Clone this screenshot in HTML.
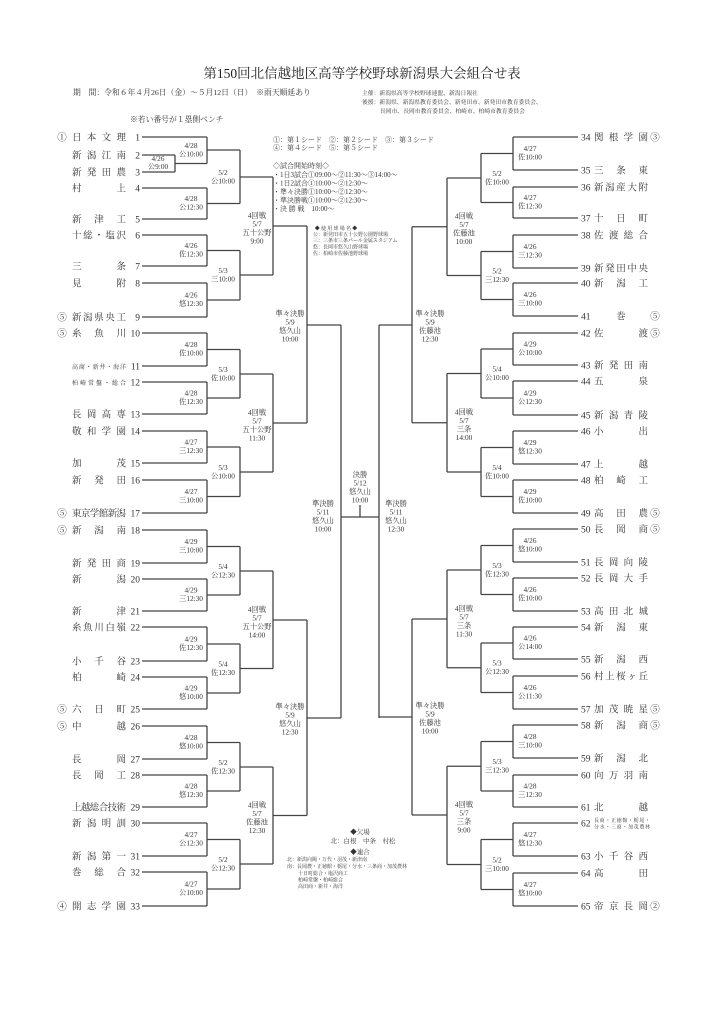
<!DOCTYPE html>
<html><head><meta charset="utf-8"><style>
html,body{margin:0;padding:0;background:#fff;}
svg{display:block;font-family:"Liberation Serif","Noto Serif CJK SC",serif;}
.n{font-size:9.5px;fill:#333;}
.s{font-size:6px;fill:#333;}
.l{font-size:7.3px;fill:#333;text-anchor:middle;}
.e{text-anchor:end;}
.m{text-anchor:middle;}
.t{font-size:7px;fill:#333;}
.v{font-size:5px;fill:#333;}
</style></head><body>
<svg width="725" height="1024" viewBox="0 0 725 1024" xmlns="http://www.w3.org/2000/svg">
<rect width="725" height="1024" fill="#fff"/>
<text x="362" y="78" font-size="13.5" text-anchor="middle" fill="#222">第150回北信越地区高等学校野球新潟県大会組合せ表</text>
<text x="73" y="95" font-size="7.8" fill="#333">期　間：令和６年４月26日（金）～５月12日（日）　※雨天順延あり</text>
<text x="362" y="95" font-size="5.8" fill="#333">主催：新潟県高等学校野球連盟、新潟日報社</text>
<text x="362" y="104" font-size="5.8" fill="#333">後援：新潟県、新潟県教育委員会、新発田市、新発田市教育委員会、</text>
<text x="380" y="113" font-size="5.8" fill="#333">長岡市、長岡市教育委員会、柏崎市、柏崎市教育委員会</text>
<text x="130" y="122" font-size="7.8" fill="#333">※若い番号が１塁側ベンチ</text>
<text x="273" y="142" class="t" font-size="6.5">①：第１シード　②：第２シード　③：第３シード</text>
<text x="273" y="150" class="t" font-size="6.5">④：第４シード　⑤：第５シード</text>
<text x="273" y="168" class="t">◇試合開始時刻◇</text>
<text x="273" y="177" class="t">・1日3試合①09:00～②11:30～③14:00～</text>
<text x="273" y="185.5" class="t">・1日2試合①10:00～②12:30～</text>
<text x="273" y="194" class="t">・準々決勝①10:00～②12:30～</text>
<text x="273" y="202.5" class="t">・準決勝戦①10:00～②12:30～</text>
<text x="273" y="211" class="t">・決 勝 戦　10:00～</text>
<text x="336" y="230" class="v m">◆ 使 用 球 場 名 ◆</text>
<text x="313" y="236" class="v" font-size="4.6">公：新発田市五十公野公園野球場</text>
<text x="313" y="242" class="v" font-size="4.6">三：三条市三条パール金属スタジアム</text>
<text x="313" y="248.5" class="v" font-size="4.6">悠：長岡市悠久山野球場</text>
<text x="313" y="255" class="v" font-size="4.6">佐：柏崎市佐藤池野球場</text>

<path fill="none" stroke="#444" stroke-width="1.3" d="
M142 137H207 M142 155H175 M142 172H175 M142 188H207 M142 219H207 M142 235H207 M142 266H207 M142 283H207 M142 317H207
M142 333H207 M142 366H207 M142 382H207 M142 414H207 M142 431H207 M142 463H207 M142 480H207 M142 513H207
M142 530H207 M142 563H207 M142 579H207 M142 611H207 M142 627H207 M142 661H207 M142 677H207 M142 709H207
M142 726H207 M142 759H207 M142 775H207 M142 807H207 M142 823H207 M142 856H207 M142 872H207 M142 906H207
M175 155V172 M175 163.5H207
M207 137V163.5 M207 150H240
M207 188V219 M207 203.5H240
M207 235V266 M207 250.5H240
M207 283V317 M207 300H240
M207 333V366 M207 349.5H240
M207 382V414 M207 398H240
M207 431V463 M207 447H240
M207 480V513 M207 496.5H240
M207 530V563 M207 546.5H240
M207 579V611 M207 595H240
M207 627V661 M207 644H240
M207 677V709 M207 693H240
M207 726V759 M207 742.5H240
M207 775V807 M207 791H240
M207 823V856 M207 839.5H240
M207 872V906 M207 889H240
M240 150V203.5 M240 177H273
M240 250.5V300 M240 275H273
M240 349.5V398 M240 374H273
M240 447V496.5 M240 472H273
M240 546.5V595 M240 571H273
M240 644V693 M240 668.5H273
M240 742.5V791 M240 767H273
M240 839.5V889 M240 864H273
M273 177V275 M273 226H307
M273 374V472 M273 423H307
M273 571V668.5 M273 620H307
M273 767V864 M273 815.5H307
M307 226V423 M307 325H341
M307 620V815.5 M307 718H341
M341 325V718 M341 517H379 M360 505V517
M379 325V718
M412 226.75V422.75 M412 325H379
M412 619V815 M412 717H379
M447 178V275.5 M447 226.75H412
M447 373.5V472 M447 422.75H412
M447 570V667.75 M447 619H412
M447 766.25V864.5 M447 815H412
M481 153.5V202.5 M481 178H447
M481 251.5V299.5 M481 275.5H447
M481 349V398 M481 373.5H447
M481 447.5V496.5 M481 472H447
M481 545.5V594.5 M481 570H447
M481 643V692.5 M481 667.75H447
M481 741.5V791 M481 766.25H447
M481 839.5V889.5 M481 864.5H447
M513 137V170 M513 153.5H481
M513 187V218 M513 202.5H481
M513 235V268 M513 251.5H481
M513 283V316 M513 299.5H481
M513 333V365 M513 349H481
M513 381V415 M513 398H481
M513 431V464 M513 447.5H481
M513 480V513 M513 496.5H481
M513 529V562 M513 545.5H481
M513 578V611 M513 594.5H481
M513 627V659 M513 643H481
M513 676V709 M513 692.5H481
M513 725V758 M513 741.5H481
M513 775V807 M513 791H481
M513 823V856 M513 839.5H481
M513 873V906 M513 889.5H481
M513 137H578 M513 170H578 M513 187H578 M513 218H578 M513 235H578 M513 268H578 M513 283H578 M513 316H578
M513 333H578 M513 365H578 M513 381H578 M513 415H578 M513 431H578 M513 464H578 M513 480H578 M513 513H578
M513 529H578 M513 562H578 M513 578H578 M513 611H578 M513 627H578 M513 659H578 M513 676H578 M513 709H578
M513 725H578 M513 758H578 M513 775H578 M513 807H578 M513 823H578 M513 856H578 M513 873H578 M513 906H578
"/>

<!-- Left teams -->
<g class="n">
<text x="62" y="140.5" class="m">①</text><text x="72" y="140.5" textLength="54">日本文理</text><text x="140" y="140.5" class="e">1</text>
<text x="72" y="158.5" textLength="54">新潟江南</text><text x="140" y="158.5" class="e">2</text>
<text x="72" y="175.5" textLength="54">新発田農</text><text x="140" y="175.5" class="e">3</text>
<text x="72" y="191.5" textLength="54">村上</text><text x="140" y="191.5" class="e">4</text>
<text x="72" y="222.5" textLength="54">新津工</text><text x="140" y="222.5" class="e">5</text>
<text x="72" y="238.5" textLength="54">十総・塩沢</text><text x="140" y="238.5" class="e">6</text>
<text x="72" y="269.5" textLength="54">三条</text><text x="140" y="269.5" class="e">7</text>
<text x="72" y="286.5" textLength="54">見附</text><text x="140" y="286.5" class="e">8</text>
<text x="62" y="320.5" class="m">⑤</text><text x="72" y="320.5" textLength="54">新潟県央工</text><text x="140" y="320.5" class="e">9</text>
<text x="62" y="336.5" class="m">⑤</text><text x="72" y="336.5" textLength="54">糸魚川</text><text x="140" y="336.5" class="e">10</text>
<text x="72" y="369" class="s" textLength="54">高商・新井・海洋</text><text x="140" y="369.5" class="e">11</text>
<text x="72" y="385" class="s" textLength="54">柏崎常盤・総合</text><text x="140" y="385.5" class="e">12</text>
<text x="72" y="417.5" textLength="54">長岡高専</text><text x="140" y="417.5" class="e">13</text>
<text x="72" y="434.5" textLength="54">敬和学園</text><text x="140" y="434.5" class="e">14</text>
<text x="72" y="466.5" textLength="54">加茂</text><text x="140" y="466.5" class="e">15</text>
<text x="72" y="483.5" textLength="54">新発田</text><text x="140" y="483.5" class="e">16</text>
<text x="62" y="516.5" class="m">⑤</text><text x="72" y="516.5" textLength="54">東京学館新潟</text><text x="140" y="516.5" class="e">17</text>
<text x="62" y="533.5" class="m">⑤</text><text x="72" y="533.5" textLength="54">新潟南</text><text x="140" y="533.5" class="e">18</text>
<text x="72" y="566.5" textLength="54">新発田商</text><text x="140" y="566.5" class="e">19</text>
<text x="72" y="582.5" textLength="54">新潟</text><text x="140" y="582.5" class="e">20</text>
<text x="72" y="614.5" textLength="54">新津</text><text x="140" y="614.5" class="e">21</text>
<text x="72" y="630.5" textLength="54">糸魚川白嶺</text><text x="140" y="630.5" class="e">22</text>
<text x="72" y="664.5" textLength="54">小千谷</text><text x="140" y="664.5" class="e">23</text>
<text x="72" y="680.5" textLength="54">柏崎</text><text x="140" y="680.5" class="e">24</text>
<text x="62" y="712.5" class="m">⑤</text><text x="72" y="712.5" textLength="54">六日町</text><text x="140" y="712.5" class="e">25</text>
<text x="62" y="729.5" class="m">⑤</text><text x="72" y="729.5" textLength="54">中越</text><text x="140" y="729.5" class="e">26</text>
<text x="72" y="762.5" textLength="54">長岡</text><text x="140" y="762.5" class="e">27</text>
<text x="72" y="778.5" textLength="54">長岡工</text><text x="140" y="778.5" class="e">28</text>
<text x="72" y="810.5" textLength="54">上越総合技術</text><text x="140" y="810.5" class="e">29</text>
<text x="72" y="826.5" textLength="54">新潟明訓</text><text x="140" y="826.5" class="e">30</text>
<text x="72" y="859.5" textLength="54">新潟第一</text><text x="140" y="859.5" class="e">31</text>
<text x="72" y="875.5" textLength="54">巻総合</text><text x="140" y="875.5" class="e">32</text>
<text x="62" y="909.5" class="m">④</text><text x="72" y="909.5" textLength="54">開志学園</text><text x="140" y="909.5" class="e">33</text>
</g>

<!-- Right teams -->
<g class="n">
<text x="581" y="140.5">34</text><text x="594" y="140.5" textLength="54">関根学園</text><text x="655" y="140.5" class="m">③</text>
<text x="581" y="173.5">35</text><text x="594" y="173.5" textLength="54">三条東</text>
<text x="581" y="190.5">36</text><text x="594" y="190.5" textLength="54">新潟産大附</text>
<text x="581" y="221.5">37</text><text x="594" y="221.5" textLength="54">十日町</text>
<text x="581" y="238.5">38</text><text x="594" y="238.5" textLength="54">佐渡総合</text>
<text x="581" y="271.5">39</text><text x="594" y="271.5" textLength="54">新発田中央</text>
<text x="581" y="286.5">40</text><text x="594" y="286.5" textLength="54">新潟工</text>
<text x="581" y="319.5">41</text><text x="621" y="319.5" class="m">巻</text><text x="655" y="319.5" class="m">⑤</text>
<text x="581" y="336.5">42</text><text x="594" y="336.5" textLength="54">佐渡</text><text x="655" y="336.5" class="m">⑤</text>
<text x="581" y="368.5">43</text><text x="594" y="368.5" textLength="54">新発田南</text>
<text x="581" y="384.5">44</text><text x="594" y="384.5" textLength="54">五泉</text>
<text x="581" y="418.5">45</text><text x="594" y="418.5" textLength="54">新潟青陵</text>
<text x="581" y="434.5">46</text><text x="594" y="434.5" textLength="54">小出</text>
<text x="581" y="467.5">47</text><text x="594" y="467.5" textLength="54">上越</text>
<text x="581" y="483.5">48</text><text x="594" y="483.5" textLength="54">柏崎工</text>
<text x="581" y="516.5">49</text><text x="594" y="516.5" textLength="54">高田農</text><text x="655" y="516.5" class="m">⑤</text>
<text x="581" y="532.5">50</text><text x="594" y="532.5" textLength="54">長岡商</text><text x="655" y="532.5" class="m">⑤</text>
<text x="581" y="565.5">51</text><text x="594" y="565.5" textLength="54">長岡向陵</text>
<text x="581" y="581.5">52</text><text x="594" y="581.5" textLength="54">長岡大手</text>
<text x="581" y="614.5">53</text><text x="594" y="614.5" textLength="54">高田北城</text>
<text x="581" y="630.5">54</text><text x="594" y="630.5" textLength="54">新潟東</text>
<text x="581" y="662.5">55</text><text x="594" y="662.5" textLength="54">新潟西</text>
<text x="581" y="679.5">56</text><text x="594" y="679.5" textLength="54">村上桜ヶ丘</text>
<text x="581" y="712.5">57</text><text x="594" y="712.5" textLength="54">加茂暁星</text><text x="655" y="712.5" class="m">⑤</text>
<text x="581" y="728.5">58</text><text x="594" y="728.5" textLength="54">新潟商</text><text x="655" y="728.5" class="m">⑤</text>
<text x="581" y="761.5">59</text><text x="594" y="761.5" textLength="54">新潟北</text>
<text x="581" y="778.5">60</text><text x="594" y="778.5" textLength="54">向万羽南</text>
<text x="581" y="810.5">61</text><text x="594" y="810.5" textLength="54">北越</text>
<text x="581" y="826.5">62</text><text x="594" y="822" class="v" textLength="56">長商・正徳館・栃尾・</text><text x="594" y="828.5" class="v" textLength="56">分水・三商・加茂農林</text>
<text x="581" y="859.5">63</text><text x="594" y="859.5" textLength="54">小千谷西</text>
<text x="581" y="876.5">64</text><text x="594" y="876.5" textLength="54">高田</text>
<text x="581" y="909.5">65</text><text x="594" y="909.5" textLength="54">帝京長岡</text><text x="655" y="909.5" class="m">②</text>
</g>

<!-- Left labels -->
<g class="l">
<text x="158" y="161">4/26</text><text x="158" y="169">公9:00</text>
<text x="191" y="148">4/28</text><text x="191" y="156.5">公10:00</text>
<text x="191" y="201">4/28</text><text x="191" y="209.5">公12:30</text>
<text x="191" y="248">4/26</text><text x="191" y="256.5">佐12:30</text>
<text x="191" y="297.5">4/26</text><text x="191" y="306">悠12:30</text>
<text x="191" y="347">4/28</text><text x="191" y="355.5">佐10:00</text>
<text x="191" y="395.5">4/28</text><text x="191" y="404">佐12:30</text>
<text x="191" y="444.5">4/27</text><text x="191" y="453">三12:30</text>
<text x="191" y="494">4/27</text><text x="191" y="502.5">三10:00</text>
<text x="191" y="544">4/29</text><text x="191" y="552.5">三10:00</text>
<text x="191" y="592.5">4/29</text><text x="191" y="601">三12:30</text>
<text x="191" y="641.5">4/29</text><text x="191" y="650">佐12:30</text>
<text x="191" y="690.5">4/29</text><text x="191" y="699">悠10:00</text>
<text x="191" y="740">4/28</text><text x="191" y="748.5">悠10:00</text>
<text x="191" y="788.5">4/28</text><text x="191" y="797">悠12:30</text>
<text x="191" y="837">4/27</text><text x="191" y="845.5">公12:30</text>
<text x="191" y="886.5">4/27</text><text x="191" y="895">公10:00</text>
<text x="223" y="175">5/2</text><text x="223" y="183.5">公10:00</text>
<text x="223" y="273">5/3</text><text x="223" y="281.5">三10:00</text>
<text x="223" y="372">5/3</text><text x="223" y="380.5">佐10:00</text>
<text x="223" y="470">5/3</text><text x="223" y="478.5">公10:00</text>
<text x="223" y="569">5/4</text><text x="223" y="577.5">公12:30</text>
<text x="223" y="666.5">5/4</text><text x="223" y="675">佐12:30</text>
<text x="223" y="765">5/2</text><text x="223" y="773.5">佐12:30</text>
<text x="223" y="862">5/2</text><text x="223" y="870.5">公12:30</text>
<text x="257" y="218">4回戦</text><text x="257" y="226.5">5/7</text><text x="257" y="235">五十公野</text><text x="257" y="243.5">9:00</text>
<text x="257" y="415">4回戦</text><text x="257" y="423.5">5/7</text><text x="257" y="432">五十公野</text><text x="257" y="440.5">11:30</text>
<text x="257" y="612">4回戦</text><text x="257" y="620.5">5/7</text><text x="257" y="629">五十公野</text><text x="257" y="637.5">14:00</text>
<text x="257" y="807.5">4回戦</text><text x="257" y="816">5/7</text><text x="257" y="824.5">佐藤池</text><text x="257" y="833">12:30</text>
<text x="290" y="316">準々決勝</text><text x="290" y="324.5">5/9</text><text x="290" y="333">悠久山</text><text x="290" y="341.5">10:00</text>
<text x="290" y="709">準々決勝</text><text x="290" y="717.5">5/9</text><text x="290" y="726">悠久山</text><text x="290" y="734.5">12:30</text>
<text x="323" y="506">準決勝</text><text x="323" y="514.5">5/11</text><text x="323" y="523">悠久山</text><text x="323" y="531.5">10:00</text>
<text x="360" y="477">決勝</text><text x="360" y="485.5">5/12</text><text x="360" y="494">悠久山</text><text x="360" y="502.5">10:00</text>
<text x="396" y="506">準決勝</text><text x="396" y="514.5">5/11</text><text x="396" y="523">悠久山</text><text x="396" y="531.5">12:30</text>
<text x="430" y="316">準々決勝</text><text x="430" y="324.5">5/9</text><text x="430" y="333">佐藤池</text><text x="430" y="341.5">12:30</text>
<text x="430" y="708">準々決勝</text><text x="430" y="716.5">5/9</text><text x="430" y="725">佐藤池</text><text x="430" y="733.5">10:00</text>
<text x="464" y="218.5">4回戦</text><text x="464" y="227">5/7</text><text x="464" y="235.5">佐藤池</text><text x="464" y="244">10:00</text>
<text x="464" y="414.5">4回戦</text><text x="464" y="423">5/7</text><text x="464" y="431.5">三条</text><text x="464" y="440">14:00</text>
<text x="464" y="611">4回戦</text><text x="464" y="619.5">5/7</text><text x="464" y="628">三条</text><text x="464" y="636.5">11:30</text>
<text x="464" y="807">4回戦</text><text x="464" y="815.5">5/7</text><text x="464" y="824">三条</text><text x="464" y="832.5">9:00</text>
<text x="497" y="176">5/2</text><text x="497" y="184.5">佐10:00</text>
<text x="497" y="273.5">5/2</text><text x="497" y="282">三12:30</text>
<text x="497" y="371.5">5/4</text><text x="497" y="380">公10:00</text>
<text x="497" y="470">5/4</text><text x="497" y="478.5">佐10:00</text>
<text x="497" y="568">5/3</text><text x="497" y="576.5">佐12:30</text>
<text x="497" y="665.5">5/3</text><text x="497" y="674">公12:30</text>
<text x="497" y="764">5/3</text><text x="497" y="772.5">三12:30</text>
<text x="497" y="862.5">5/2</text><text x="497" y="871">三10:00</text>
<text x="530" y="151">4/27</text><text x="530" y="159.5">佐10:00</text>
<text x="530" y="200">4/27</text><text x="530" y="208.5">佐12:30</text>
<text x="530" y="249">4/26</text><text x="530" y="257.5">三12:30</text>
<text x="530" y="297">4/26</text><text x="530" y="305.5">三10:00</text>
<text x="530" y="346.5">4/29</text><text x="530" y="355">公10:00</text>
<text x="530" y="395.5">4/29</text><text x="530" y="404">公12:30</text>
<text x="530" y="445">4/29</text><text x="530" y="453.5">悠12:30</text>
<text x="530" y="494">4/29</text><text x="530" y="502.5">佐10:00</text>
<text x="530" y="543">4/26</text><text x="530" y="551.5">悠10:00</text>
<text x="530" y="592">4/26</text><text x="530" y="600.5">佐10:00</text>
<text x="530" y="640.5">4/26</text><text x="530" y="649">公14:00</text>
<text x="530" y="690">4/26</text><text x="530" y="698.5">公11:30</text>
<text x="530" y="739">4/28</text><text x="530" y="747.5">三10:00</text>
<text x="530" y="788.5">4/28</text><text x="530" y="797">三12:30</text>
<text x="530" y="837">4/27</text><text x="530" y="845.5">悠12:30</text>
<text x="530" y="887">4/27</text><text x="530" y="895.5">悠10:00</text>
</g>

<text x="360" y="834" font-size="6.5" fill="#333" text-anchor="middle">◆欠場</text>
<text x="363" y="843" font-size="6.5" fill="#333" text-anchor="middle">北：白根　中条　村松</text>
<text x="360" y="854" font-size="6.5" fill="#333" text-anchor="middle">◆連合</text>
<text x="287" y="861" class="v" font-size="5.3">北：新潟向陽・万代・羽茂・新津南</text>
<text x="287" y="868" class="v" font-size="5.3">南：長岡農・正徳館・栃尾・分水・三条商・加茂農林</text>
<text x="298" y="875" class="v" font-size="5.3">十日町総合・塩沢商工</text>
<text x="298" y="881.5" class="v" font-size="5.3">柏崎常盤・柏崎総合</text>
<text x="298" y="888" class="v" font-size="5.3">高田商・新井・海洋</text>
</svg>
</body></html>
